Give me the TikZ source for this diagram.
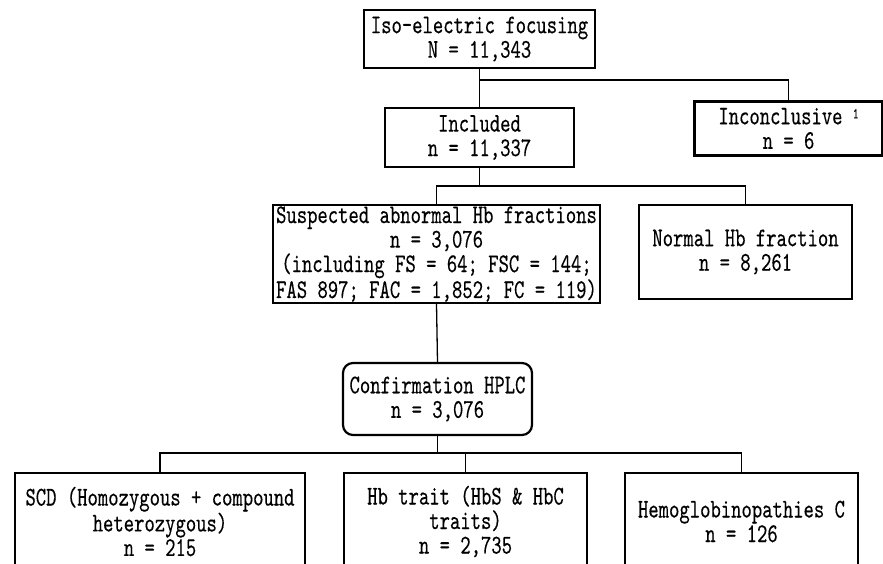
\documentclass[tikz,border=0pt]{standalone}
\usepackage{fontspec}
\newfontfamily\diagfont[FakeStretch=0.73,FakeBold=0.3]{lmmono10-regular.otf}
\begin{document}
\begin{tikzpicture}[x=1pt,y=-1pt,
  box/.style={draw=black,line width=2.2pt,rectangle,inner sep=0pt,align=center,
    font=\diagfont\fontsize{27}{24.5}\selectfont},
  rbox/.style={box,rounded corners=10pt},
  conn/.style={draw=black,line width=1.3pt}]
\useasboundingbox (0,0) rectangle (883,563);
\clip (0,0) rectangle (883,563);
\fill[white] (0,0) rectangle (883,563);
% boxes
\node[box,minimum width=231pt,minimum height=58pt] (iso) at (479.5,39) {Iso-electric focusing\\N = 11,343};
\node[box,minimum width=188pt,minimum height=54pt] (inc) at (788.5,128.5) {Inconclusive \raisebox{6pt}{\fontsize{15}{15}\selectfont 1}\\n = 6};
\node[box,minimum width=189pt,minimum height=59pt] (incl) at (479.5,137.5) {Included\\n = 11,337};
\node[box,minimum width=327pt,minimum height=98pt] (susp) at (436.5,254) {Suspected abnormal Hb fractions\\n = 3,076\\(including FS = 64; FSC = 144;\\FAS 897; FAC = 1,852; FC = 119)};
\node[box,minimum width=213pt,minimum height=94pt] (norm) at (745.5,252) {Normal Hb fraction\\n = 8,261};
\node[rbox,minimum width=189pt,minimum height=72pt] (conf) at (437.5,399) {Confirmation HPLC\\n = 3,076};
\node[box,minimum width=290pt,minimum height=97pt] (scd) at (160,521.5) {SCD (Homozygous + compound\\heterozygous)\\n = 215};
\node[box,minimum width=243pt,minimum height=97pt] (trait) at (465.5,521.5) {Hb trait (HbS \& HbC\\traits)\\n = 2,735};
\node[box,minimum width=233pt,minimum height=97pt] (hemo) at (741.5,521.5) {Hemoglobinopathies C\\n = 126};
% junctions
\coordinate (j1) at (479.5,80);
\coordinate (j2) at (436.5,186);
\coordinate (j3) at (437.5,453);
% connectors
\draw[conn] (iso.south) -- (incl.north);
\draw[conn] (j1) -| (inc.north);
\draw[conn] (incl.south) -- (incl.south |- j2);
\draw[conn] (susp.north) |- (norm.north |- j2) -- (norm.north);
\draw[conn] (susp.south) -- (conf.north);
\draw[conn] (conf.south) -- (j3);
\draw[conn] (scd.north) |- (hemo.north |- j3) -- (hemo.north);
\draw[conn] (trait.north) -- (trait.north |- j3);
\end{tikzpicture}
\end{document}
